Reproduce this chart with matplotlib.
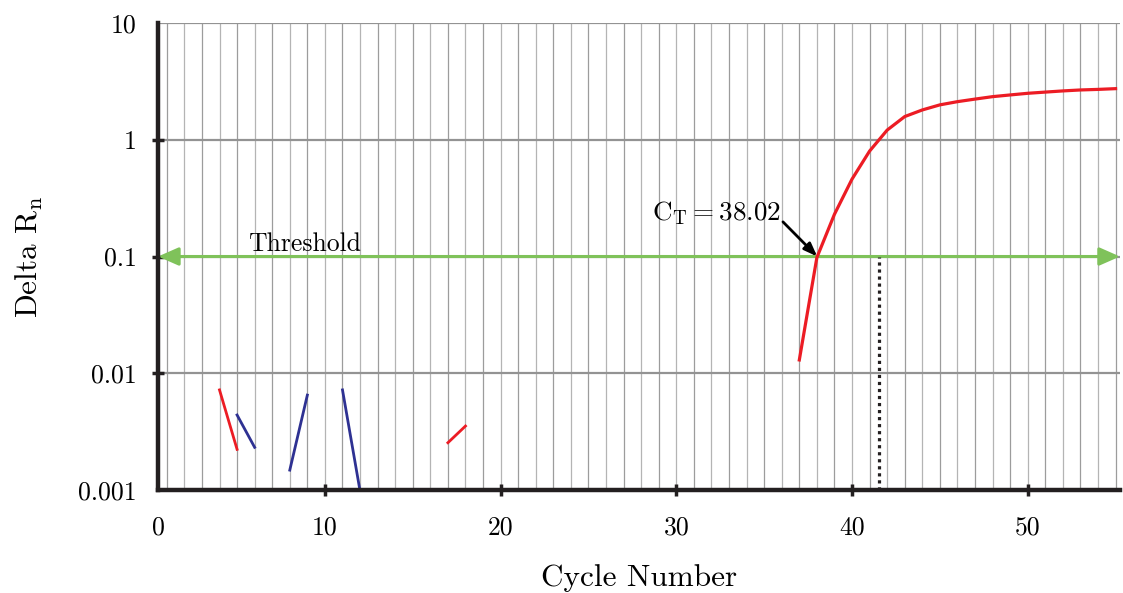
import numpy as np
import matplotlib
matplotlib.use("Agg")
import matplotlib.pyplot as plt

plt.rcParams["font.family"] = "serif"
plt.rcParams["font.serif"] = ["cmr10", "DejaVu Serif"]
plt.rcParams["mathtext.fontset"] = "cm"
plt.rcParams["axes.formatter.use_mathtext"] = True

# amplification curve (cycle, delta Rn)
amp_cycles = [37, 38, 39, 40, 41, 42, 43, 44, 45, 46, 47, 48, 49, 50, 51, 52, 53, 54, 55]
amp_values = [0.013, 0.098, 0.23, 0.46, 0.80, 1.21, 1.58, 1.80, 1.99, 2.12, 2.23,
              2.34, 2.42, 2.50, 2.56, 2.62, 2.67, 2.70, 2.74]

# background noise fragments
red_noise = [([4, 5], [0.0072, 0.00223]), ([17, 18], [0.00254, 0.00353])]
blue_noise = [([5, 6], [0.00439, 0.00232]), ([8, 9], [0.00148, 0.0065]),
              ([11, 12], [0.0072, 0.00098])]

threshold = 0.1
ct_value = 38.02
dotted_x = 41.55

x_ticks = [0.5, 10, 20, 30, 40, 50]
x_labels = ["0", "10", "20", "30", "40", "50"]
y_ticks = [0.001, 0.01, 0.1, 1, 10]
y_labels = ["0.001", "0.01", "0.1", "1", "10"]

RED = "#ec1c24"
BLUE = "#2e3192"
GREEN = "#7fc25a"
DARK = "#231f20"

fig = plt.figure(figsize=(11.23, 5.93), dpi=100)
ax = fig.add_axes([0.1407, 0.1737, 0.8566, 0.7875])

ax.set_xlim(0.5, 55.25)
ax.set_yscale("log")
ax.set_ylim(0.001, 10)

# grid: one line per cycle, alternating slightly in tone
for c in range(1, 56):
    ax.axvline(c, color="#9c9c9c" if c % 2 else "#b4b4b4", lw=0.9, zorder=1)
for v in [0.01, 0.1, 1, 10]:
    ax.axhline(v, color="#939393", lw=1.6, zorder=1)

# noise
for xs, ys in red_noise:
    ax.plot(xs, ys, color=RED, lw=2.0, zorder=3)
for xs, ys in blue_noise:
    ax.plot(xs, ys, color=BLUE, lw=2.0, zorder=3)

# threshold line with arrows on both ends
ax.annotate("", xy=(0.5, threshold), xytext=(55.25, threshold),
            arrowprops=dict(arrowstyle="<|-|>,head_length=1.25,head_width=0.55",
                            color=GREEN, lw=2.2, shrinkA=0, shrinkB=0),
            zorder=2, annotation_clip=False)
ax.text(5.6, 0.111, "Threshold", fontsize=18.5, ha="left", va="baseline", zorder=4)

# dotted Ct marker
ax.plot([dotted_x, dotted_x], [0.001, threshold], color=DARK, lw=2.3,
        linestyle=(0, (1, 1.2)), dash_capstyle="butt", zorder=3)

# amplification curve
ax.plot(amp_cycles, amp_values, color=RED, lw=2.3, zorder=4, clip_on=False)

# Ct annotation
ax.annotate("", xy=(ct_value, threshold), xytext=(36.07, 0.198),
            arrowprops=dict(arrowstyle="-|>,head_length=0.8,head_width=0.3",
                            color="black", lw=2.0, shrinkA=0, shrinkB=0),
            zorder=5)
ax.text(32.3, 0.236, r"$\mathrm{C}_\mathrm{T} = 38.02$", fontsize=19.5,
        ha="center", va="center", zorder=5)

# axes styling
for side in ["top", "right"]:
    ax.spines[side].set_visible(False)
for side in ["left", "bottom"]:
    ax.spines[side].set_linewidth(3.2)
    ax.spines[side].set_color(DARK)
    ax.spines[side].set_zorder(6)

ax.set_xticks(x_ticks)
ax.set_xticklabels(x_labels)
ax.set_yticks(y_ticks)
ax.set_yticklabels(y_labels)
ax.yaxis.set_minor_locator(matplotlib.ticker.NullLocator())
ax.tick_params(axis="both", which="major", direction="inout", length=9, width=2.5,
               color=DARK, labelsize=18.5)
ax.tick_params(axis="x", pad=14)
ax.tick_params(axis="y", pad=11)
ax.xaxis.get_major_ticks()[0].tick1line.set_visible(False)
ax.yaxis.get_major_ticks()[0].tick1line.set_visible(False)
ax.yaxis.get_major_ticks()[-1].tick1line.set_visible(False)

ax.set_xlabel("Cycle Number", fontsize=22.5, labelpad=18)
ax.set_ylabel(r"Delta R$_\mathrm{n}$", fontsize=22.5, labelpad=24)

fig.savefig("out.png", dpi=100)
plt.close(fig)
